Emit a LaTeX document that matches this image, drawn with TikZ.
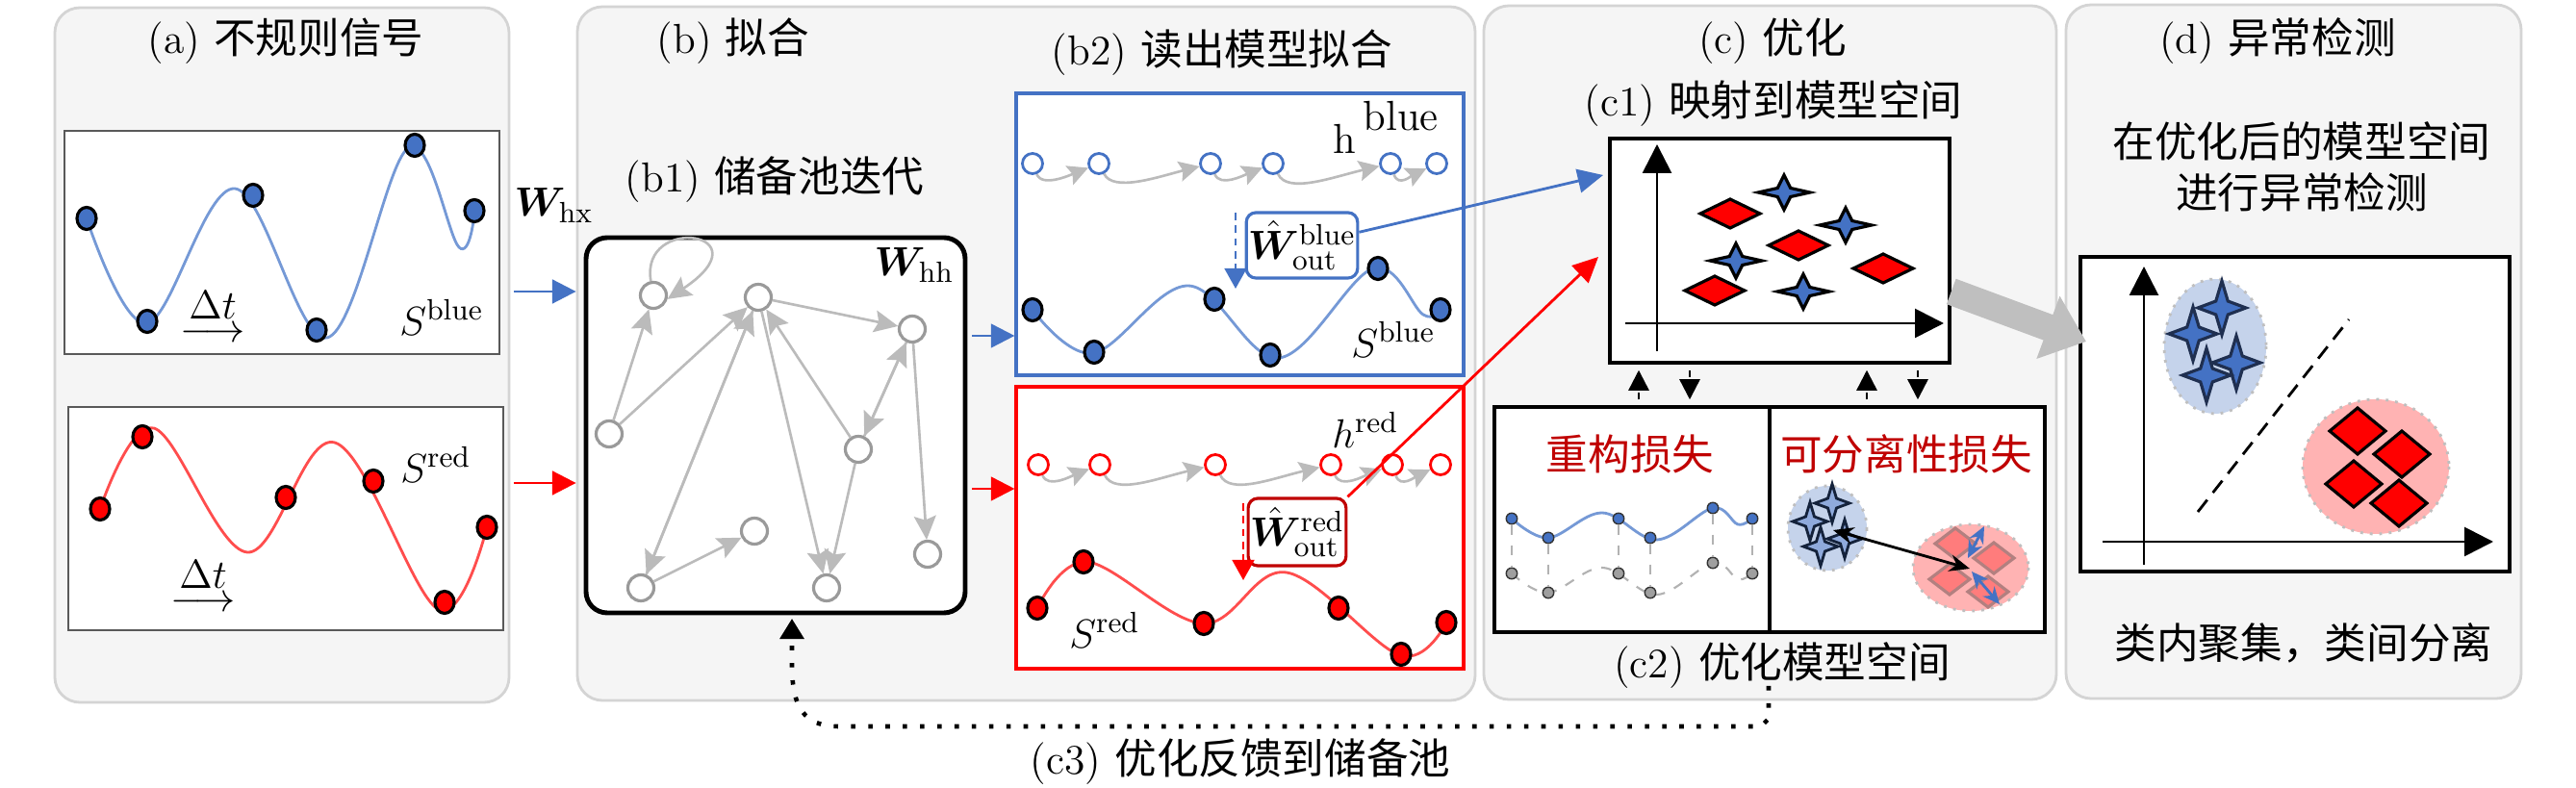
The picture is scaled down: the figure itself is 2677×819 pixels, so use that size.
\documentclass[tikz,border=0pt]{standalone}
\usepackage{amsmath}
\usepackage{bm}
\usepackage{fontspec}
\newfontfamily\cjk{Noto Sans CJK SC}
\usetikzlibrary{arrows.meta,fit,calc,shapes.geometric}
\definecolor{cblue}{HTML}{4472C4}
\definecolor{cbluel}{HTML}{7599D6}
\definecolor{cred}{HTML}{FF0000}
\definecolor{credl}{HTML}{FF4D4D}
\definecolor{cdred}{HTML}{C00000}
\definecolor{pfill}{HTML}{F5F5F5}
\definecolor{pdraw}{HTML}{D4D4D4}
\definecolor{gedge}{HTML}{BBBBBB}
\definecolor{gnode}{HTML}{9A9A9A}
\definecolor{lblue}{HTML}{C5D3EB}
\definecolor{lred}{HTML}{FFB3B3}
\definecolor{sblue}{HTML}{8FAADC}
\definecolor{sred}{HTML}{FF7C7C}
\definecolor{darkb}{HTML}{1F2F50}
\newcommand\mystar[5]{\draw[#5] (#1+#3,#2) -- (#1+0.25*#3,#2-0.25*#4) -- (#1,#2-#4) -- (#1-0.25*#3,#2-0.25*#4) -- (#1-#3,#2) -- (#1-0.25*#3,#2+0.25*#4) -- (#1,#2+#4) -- (#1+0.25*#3,#2+0.25*#4) -- cycle;}
\newcommand\mydia[5]{\draw[#5] (#1+#3,#2) -- (#1,#2-#4) -- (#1-#3,#2) -- (#1,#2+#4) -- cycle;}
\begin{document}
\begin{tikzpicture}[x=0.01cm,y=-0.01cm,
  font=\fontsize{12.4}{15}\selectfont,
  panel/.style={draw=pdraw,line width=0.8pt,fill=pfill,rounded corners=0.26cm,inner sep=0pt},
  sigbox/.style={draw=black!65,line width=0.5pt,fill=white,inner sep=0pt},
  bdot/.style={ellipse,draw=black,line width=0.9pt,fill=cblue,minimum width=0.2cm,minimum height=0.23cm,inner sep=0pt},
  rdot/.style={bdot,fill=cred},
  bcurve/.style={cbluel,line width=0.8pt},
  rcurve/.style={credl,line width=0.8pt},
  rn/.style={circle,draw=gnode,line width=0.9pt,fill=white,minimum size=0.27cm,inner sep=0pt},
  re/.style={gedge,line width=0.75pt,-{Stealth[length=7pt,width=6.5pt,inset=1.2pt]}},
  hbn/.style={circle,draw=cblue,line width=0.8pt,fill=white,minimum size=0.21cm,inner sep=0pt},
  hrn/.style={hbn,draw=cred},
  he/.style={gedge,line width=0.75pt,-{Stealth[length=6pt,width=6pt,inset=1pt]}},
  barr/.style={cblue,line width=0.8pt,-{Triangle[length=7pt,width=7pt]}},
  rarr/.style={cred,line width=0.8pt,-{Triangle[length=7pt,width=7pt]}},
  bdash/.style={cblue,line width=0.7pt,dash pattern=on 2.2pt off 1.6pt,-{Triangle[length=6pt,width=6.5pt]}},
  rdash/.style={cred,line width=0.7pt,dash pattern=on 2.2pt off 1.6pt,-{Triangle[length=6pt,width=6.5pt]}},
  dua/.style={black,line width=0.7pt,dash pattern=on 2.2pt off 1.6pt,-{Triangle[length=6pt,width=6pt]},shorten <=1.7pt,shorten >=1.7pt},
  cbox/.style={draw=black,line width=1pt,fill=white,inner sep=0pt},
  axis/.style={black,line width=0.8pt,-{Triangle[length=8.5pt,width=8.5pt]}},
  bst/.style={fill=cblue,draw=black,line width=0.9pt},
  rdi/.style={fill=cred,draw=black,line width=0.9pt},
  smb/.style={circle,draw=black!80,line width=0.4pt,fill=cblue,minimum size=0.115cm,inner sep=0pt},
  smg/.style={smb,fill=gray!75},
  fbk/.style={black,line width=1.3pt,dash pattern=on 1.3pt off 3.8pt,-{Triangle[length=6pt,width=7pt]}},
  wbox/.style={rounded corners=0.1cm,fill=white,line width=0.9pt,inner sep=0.5pt}
]
\useasboundingbox (0,0) rectangle (2677,819);
\fill[white] (0,0) rectangle (2677,819);

% ---------------- panels
\node[panel,fit={(57,8)(529,730)}] (pa) {};
\node[panel,fit={(600,7)(1533,728)}] (pb) {};
\node[panel,fit={(1542,6)(2137,727)}] (pc) {};
\node[panel,fit={(2147,5)(2620,726)}] (pd) {};

% ---------------- titles
\node (ta) at (297,43) {(a) {\cjk 不规则信号}};
\node (tb) at (762,43) {(b) {\cjk 拟合}};
\node (tb1) at (805,187) {(b1) {\cjk 储备池迭代}};
\node (tb2) at (1270,55) {(b2) {\cjk 读出模型拟合}};
\node (tc) at (1842,43) {(c) {\cjk 优化}};
\node (tc1) at (1843,108) {(c1) {\cjk 映射到模型空间}};
\node (tc2) at (1852,692) {(c2) {\cjk 优化模型空间}};
\node (tc3) at (1289,792) {(c3) {\cjk 优化反馈到储备池}};
\node (td) at (2367,43) {(d) {\cjk 异常检测}};
\node[align=center] (td1) at (2392,173) {{\cjk 在优化后的模型空间}\\{\cjk 进行异常检测}};
\node (td2) at (2394,668) {{\cjk 类内聚集，类间分离}};

% ---------------- (a) signals
\node[sigbox,fit={(67,136)(519,368)}] (sa1) {};
\draw[bcurve] plot[smooth,tension=0.6] coordinates {(90,227) (153,336) (244,196) (340,351) (424,154) (477,257) (493,222)};
\foreach \x/\y [count=\i] in {90/227,153/334,263/203,329/343,431/151,493/219}
  \node[bdot] (ab\i) at (\x,\y) {};
\node (dta1) at (221,327) {$\overset{\displaystyle\Delta t}{\longrightarrow}$};
\node (sba) at (459,330) {$S^{\mathrm{blue}}$};

\node[sigbox,fit={(71,423)(523,655)}] (sa2) {};
\draw[rcurve] plot[smooth,tension=0.6] coordinates {(104,529) (160,445) (257,574) (348,460) (455,633) (506,548)};
\foreach \x/\y [count=\i] in {104/529,148/454,297/517,388/500,462/626,506/548}
  \node[rdot] (ar\i) at (\x,\y) {};
\node (dta2) at (211,607) {$\overset{\displaystyle\Delta t}{\longrightarrow}$};
\node (sra) at (453,483) {$S^{\mathrm{red}}$};

\node[anchor=base west,inner sep=0pt] (whx) at (534,225) {$\bm{W}_{\mathrm{hx}}$};

% ---------------- (b1) reservoir
\node[draw=black,line width=1.4pt,fill=white,rounded corners=0.22cm,inner sep=0pt,fit={(609,247)(1003,637)}] (res) {};
\node[anchor=base west,inner sep=0pt] (whh) at (908,287) {$\bm{W}_{\mathrm{hh}}$};
\node[rn] (n1) at (679,307) {};
\node[rn] (n2) at (788,309) {};
\node[rn] (n3) at (948,342) {};
\node[rn] (n4) at (633,451) {};
\node[rn] (n5) at (892,467) {};
\node[rn] (n6) at (784,552) {};
\node[rn] (n7) at (964,576) {};
\node[rn] (n8) at (666,611) {};
\node[rn] (n9) at (859,611) {};
\draw[re] (n4) -- (n1);
\draw[re] (n4) -- (n2);
\draw[re] (n8) -- (n2);
\draw[re] (n2) -- (n8);
\draw[re] (n5) -- (n2);
\draw[re] (n2) -- (n3);
\draw[re] (n5) -- (n3);
\draw[re] (n3) -- (n5);
\draw[re] (n3) -- (n7);
\draw[re] (n2) -- (n9);
\draw[re] (n5) -- (n9);
\draw[re] (n8) -- (n6);
\draw[re] (n1.100) .. controls +(-12,-70) and +(105,-70) .. (n1.-15);

% ---------------- (b2) blue
\node[draw=cblue,line width=0.9pt,fill=white,inner sep=0pt,fit={(1056,97)(1521,390)}] (bb) {};
\foreach \x [count=\i] in {1073,1142,1258,1323,1445,1493}
  \node[hbn] (hb\i) at (\x,170) {};
\draw[he] (hb1) .. controls +(10,25) and +(-30,12) .. (hb2);
\draw[he] (hb2) .. controls +(15,30) and +(-55,14) .. (hb3);
\draw[he] (hb3) .. controls +(10,25) and +(-30,12) .. (hb4);
\draw[he] (hb4) .. controls +(15,32) and +(-60,14) .. (hb5);
\draw[he] (hb5) .. controls +(8,25) and +(-25,12) .. (hb6);
\node[anchor=base west,inner sep=0pt] (hbl) at (1385,160) {h\hspace{2pt}\raisebox{7pt}{blue}};
\node[wbox,draw=cblue,minimum width=1.09cm,minimum height=0.68cm] (wb) at (1353,255) {$\hat{\bm W}^{\mathrm{blue}}_{\mathrm{out}}$};
\coordinate (dbt) at (1284,221);
\coordinate (dbb) at (1284,300);
\draw[bdash] (dbt) -- (dbb);
\draw[bcurve] plot[smooth,tension=0.6] coordinates {(1073,322) (1136,367) (1235,297) (1329,372) (1427,279) (1479,327) (1497,322)};
\foreach \x/\y [count=\i] in {1073/322,1137/366,1262/311,1320/369,1432/279,1497/322}
  \node[bdot] (bs\i) at (\x,\y) {};
\node (sbb) at (1448,353) {$S^{\mathrm{blue}}$};

% ---------------- (b2) red
\node[draw=cred,line width=0.9pt,fill=white,inner sep=0pt,fit={(1056,402)(1521,695)}] (rbx) {};
\foreach \x [count=\i] in {1079,1143,1263,1383,1447,1497}
  \node[hrn] (hr\i) at (\x,483) {};
\draw[he] (hr1) .. controls +(10,25) and +(-30,12) .. (hr2);
\draw[he] (hr2) .. controls +(15,32) and +(-60,14) .. (hr3);
\draw[he] (hr3) .. controls +(15,32) and +(-60,14) .. (hr4);
\draw[he] (hr4) .. controls +(10,25) and +(-30,12) .. (hr5);
\draw[he] (hr5) .. controls +(8,25) and +(-25,12) .. (hr6);
\node (hrl) at (1419,447) {$h^{\mathrm{red}}$};
\node[wbox,draw=cdred,minimum width=0.91cm,minimum height=0.7cm] (wr) at (1348,553) {$\hat{\bm W}^{\mathrm{red}}_{\mathrm{out}}$};
\coordinate (drt) at (1292,523);
\coordinate (drb) at (1292,603);
\draw[rdash] (drt) -- (drb);
\draw[rcurve] plot[smooth,tension=0.6] coordinates {(1078,632) (1130,584) (1250,648) (1337,595) (1455,681) (1503,647)};
\foreach \x/\y [count=\i] in {1078/632,1126/584,1251/648,1391/632,1456/680,1503/647}
  \node[rdot] (rs\i) at (\x,\y) {};
\node (srb) at (1148,655) {$S^{\mathrm{red}}$};

% ---------------- (c1)
\node[draw=black,line width=1pt,fill=white,inner sep=0pt,fit={(1673,144)(2026,377)}] (c1box) {};
\draw[axis] (1722,365) -- (1722,150);
\draw[axis] (1689,336) -- (2020,336);
\mydia{1798}{222}{31}{15}{rdi}
\mydia{1869}{255}{31}{15}{rdi}
\mydia{1957}{279}{31}{15}{rdi}
\mydia{1782}{302}{31}{15}{rdi}
\mystar{1854}{200}{27}{18}{bst}
\mystar{1918}{234}{27}{18}{bst}
\mystar{1804}{271}{27}{18}{bst}
\mystar{1874}{303}{27}{18}{bst}

% ---------------- (c2)
\node[cbox,fit={(1553,423)(1839,657)}] (c2a) {};
\node[cbox,fit={(1839,423)(2125,657)}] (c2b) {};
\node[text=cdred] (l1) at (1694,472) {\cjk 重构损失};
\node[text=cdred] (l2) at (1981,472) {\cjk 可分离性损失};
\draw[gray!60,dashed,line width=0.6pt] plot[smooth,tension=0.6] coordinates {(1571,596) (1609,616) (1665,590) (1722,618) (1780,585) (1806,602) (1821,596)};
\draw[cbluel,line width=0.8pt] plot[smooth,tension=0.6] coordinates {(1571,539) (1609,559) (1665,533) (1722,561) (1780,528) (1806,545) (1821,539)};
\foreach \x/\ya/\yb [count=\i] in {1571/539/596,1609/559/616,1682/539/596,1715/559/616,1780/528/585,1821/539/596} {
  \node[smb] (rb\i) at (\x,\ya) {};
  \node[smg] (rg\i) at (\x,\yb) {};
  \draw[gray!60,dashed,line width=0.6pt] (rb\i) -- (rg\i);
}
\filldraw[fill=lblue,draw=gray!50,dotted,line width=0.8pt] (1899,549) ellipse [x radius=41,y radius=44];
\filldraw[fill=lred,draw=gray!50,dotted,line width=0.8pt] (2048,590) ellipse [x radius=60,y radius=45];
\mystar{1904}{523}{18}{20}{fill=sblue,draw=black!70!cblue,line width=0.8pt}
\mystar{1881}{542}{18}{20}{fill=sblue,draw=black!70!cblue,line width=0.8pt}
\mystar{1917}{560}{18}{20}{fill=sblue,draw=black!70!cblue,line width=0.8pt}
\mystar{1892}{568}{18}{20}{fill=sblue,draw=black!70!cblue,line width=0.8pt}
\mydia{2032}{565}{21}{16}{fill=sred,draw=black!60!red!50,line width=0.9pt}
\mydia{2072}{580}{21}{16}{fill=sred,draw=black!60!red!50,line width=0.9pt}
\mydia{2026}{602}{21}{16}{fill=sred,draw=black!60!red!50,line width=0.9pt}
\mydia{2066}{615}{21}{16}{fill=sred,draw=black!60!red!50,line width=0.9pt}
\coordinate (sepb) at (1905,551);
\coordinate (sepr) at (2047,591);
\draw[black,line width=0.8pt,{Stealth[length=6pt,width=5pt]}-{Stealth[length=6pt,width=5pt]}] (sepb) -- (sepr);
\coordinate (ba1) at (2062,547);
\coordinate (ba2) at (2045,580);
\coordinate (ba3) at (2049,594);
\coordinate (ba4) at (2078,628);
\draw[cblue,line width=0.8pt,{Stealth[length=5pt,width=4.5pt]}-{Stealth[length=5pt,width=4.5pt]}] (ba1) -- (ba2);
\draw[cblue,line width=0.8pt,{Stealth[length=5pt,width=4.5pt]}-{Stealth[length=5pt,width=4.5pt]}] (ba3) -- (ba4);

% dashed arrows between c1 and c2
\coordinate (u1) at (1703,400);
\coordinate (d1) at (1756,400);
\coordinate (u2) at (1940,400);
\coordinate (d2) at (1993,400);
\draw[dua] (c2a.north -| u1) -- (c1box.south -| u1);
\draw[dua] (c1box.south -| d1) -- (c2a.north -| d1);
\draw[dua] (c2b.north -| u2) -- (c1box.south -| u2);
\draw[dua] (c1box.south -| d2) -- (c2b.north -| d2);

% ---------------- (d)
\node[draw=black,line width=1pt,fill=white,inner sep=0pt,fit={(2162,267)(2608,594)}] (dbox) {};
\draw[axis] (2228,587) -- (2228,277);
\draw[axis] (2185,563) -- (2591,563);
\filldraw[fill=lblue,draw=gray!50,dotted,line width=0.8pt] (2302,360) ellipse [x radius=53,y radius=70];
\filldraw[fill=lred,draw=gray!50,dotted,line width=0.8pt] (2469,485) ellipse [x radius=76,y radius=70];
\draw[black,line width=0.8pt,dash pattern=on 4.5pt off 2.7pt] (2284,532) -- (2441,332);
\mystar{2309}{320}{25}{28}{fill=cblue,draw=darkb,line width=0.9pt}
\mystar{2279}{347}{25}{28}{fill=cblue,draw=darkb,line width=0.9pt}
\mystar{2324}{377}{25}{28}{fill=cblue,draw=darkb,line width=0.9pt}
\mystar{2293}{390}{25}{28}{fill=cblue,draw=darkb,line width=0.9pt}
\mydia{2450}{448}{29}{24}{rdi}
\mydia{2496}{472}{29}{24}{rdi}
\mydia{2446}{503}{29}{24}{rdi}
\mydia{2493}{523}{29}{24}{rdi}

% ---------------- connectors
\coordinate (ab1) at (560,303);
\coordinate (ab2) at (560,502);
\draw[barr,shorten <=1pt] (pa.east |- ab1) -- (pb.west |- ab1);
\draw[rarr,shorten <=1pt] (pa.east |- ab2) -- (pb.west |- ab2);
\coordinate (rb1) at (1030,349);
\coordinate (rb2) at (1030,508);
\draw[barr,shorten <=1.3pt] (res.east |- rb1) -- (bb.west |- rb1);
\draw[rarr,shorten <=1.3pt] (res.east |- rb2) -- (rbx.west |- rb2);

\coordinate (cbt) at (1666,182);
\coordinate (crt) at (1661,267);
\draw[cblue,line width=0.8pt,-{Triangle[length=7.5pt,width=7pt]}] (wb.13) -- (cbt);
\draw[cred,line width=0.8pt,-{Triangle[length=7.5pt,width=7pt]}] (wr.north east) -- (crt);

\coordinate (gs) at (2026,303);
\coordinate (ge) at (2168,355);
\draw[color=black!25,line width=8pt,-{Triangle[length=12pt,width=19pt]}] (c1box.east |- gs) -- (ge);

\coordinate (fbs) at (1838,713);
\coordinate (fbt) at (823,643);
\draw[fbk] (fbs) -- (1838,747) -- (1830,755) -- (872,755) .. controls (835,755) and (823,735) .. (823,690) -- (fbt);
\end{tikzpicture}
\end{document}
